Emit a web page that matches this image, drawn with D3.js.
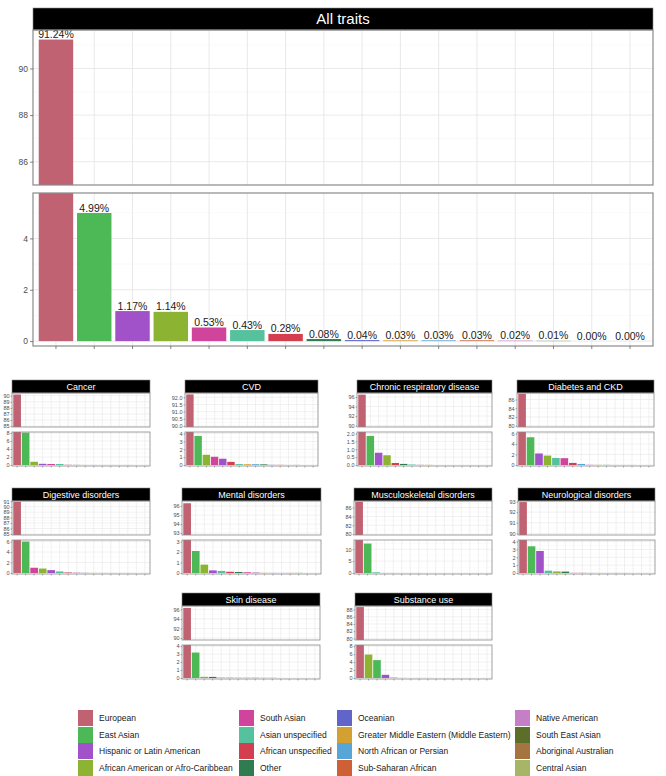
<!DOCTYPE html>
<html><head><meta charset="utf-8">
<script src="https://cdn.jsdelivr.net/npm/d3@7"></script>
<style>body{margin:0;background:#fff}svg{display:block;font-family:"Liberation Sans",Arial,sans-serif}</style>
</head><body><svg id="c" width="666" height="776"></svg>
<script>
// ---------- DATA ----------
const categories = ["European","East Asian","Hispanic or Latin American","African American or Afro-Caribbean","South Asian","Asian unspecified","African unspecified","Other","Oceanian","Greater Middle Eastern (Middle Eastern)","North African or Persian","Sub-Saharan African","Native American","South East Asian","Aboriginal Australian","Central Asian"];
const colors = ["#c06272","#4cb856","#a152c8","#8db332","#d0449c","#55c19d","#d33f4f","#2f7c50","#6165c9","#d4a031","#58a6d8","#cf5f34","#c47fc6","#5b6f2a","#a57441","#a6b566"];

const allTraitsTitle = "All traits";
const allTraits = [91.24,4.99,1.17,1.14,0.53,0.43,0.28,0.08,0.04,0.03,0.03,0.03,0.02,0.01,0.00,0.00];
const allUpperTicks = [86,88,90];
const allLowerTicks = [0,2,4];

const panelNames = ["Cancer","CVD","Chronic respiratory disease","Diabetes and CKD","Digestive disorders","Mental disorders","Musculoskeletal disorders","Neurological disorders","Skin disease","Substance use"];
const cancer     = [90.2,8.1,0.3,0.8,0.25,0.25,0.05,0.03,0.01,0.02,0.02,0.01,0.01,0.01,0,0];
const cvd        = [92.2,3.7,0.8,1.3,1.05,0.12,0.4,0.08,0.02,0.1,0.1,0.02,0.01,0.01,0,0];
const chronicResp= [96.5,1.85,0.78,0.62,0.01,0.03,0.13,0.07,0,0.01,0,0,0,0,0,0];
const diabetes   = [87.3,5.3,2.2,1.8,1.3,1.35,0.4,0.02,0.01,0.03,0.2,0.01,0.05,0.01,0,0];
const digestive  = [90.9,6.0,0.55,0.85,1.0,0.3,0.1,0.03,0.01,0.02,0.02,0.01,0.08,0.01,0,0];
const mental     = [96.3,2.1,0.25,0.8,0.07,0.2,0.12,0.1,0.01,0.02,0.01,0.01,0.06,0.01,0,0];
const musculo    = [87.3,12.4,0.02,0.01,0.02,0.3,0.01,0.01,0,0,0,0,0,0,0,0];
const neuro      = [92.95,3.4,2.8,0.2,0.02,0.3,0.02,0.18,0.01,0.01,0.01,0.01,0.01,0,0,0];
const skin       = [96.3,3.2,0.02,0.15,0.03,0.04,0.02,0.14,0,0.06,0.05,0,0.04,0,0,0];
const substance  = [88.7,4.5,0.8,5.9,0.02,0.01,0.01,0.01,0,0,0,0,0.12,0,0,0];
const panelValues = [cancer,cvd,chronicResp,diabetes,digestive,mental,musculo,neuro,skin,substance];

const upperTickLabels = [[85,86,87,88,89,90],[90.0,90.5,91.0,91.5,92.0],[90,92,94,96],[80,82,84,86],[85,86,87,88,89,90,91],[93,94,95,96],[80,82,84,86],[90,91,92,93],[90,92,94,96],[80,82,84,86,88]];
const lowerTickLabels = [[0,2,4,6,8],[0,1,2,3,4],[0.0,0.5,1.0,1.5,2.0],[0,2,4,6],[0,2,4,6],[0,1,2,3],[0,5,10],[0,1,2,3,4],[0,1,2,3,4],[0,2,4,6,8]];
const tickDecimals = [[0,0],[1,0],[0,1],[0,0],[0,0],[0,0],[0,0],[0,0],[0,0],[0,0]];
// axis ranges (upper low/high, lower top)
const upperRange = [[84.85,90.45],[89.93,92.3],[89.7,96.85],[79.7,87.5],[84.8,91.05],[92.8,96.55],[79.8,87.5],[89.85,93.05],[89.6,96.7],[79.55,89.0]];
const lowerTop = [8.25,4.2,2.1,6.3,6.3,3.15,13.9,4.2,4.15,8.3];
const allUpperRange = [85.0,91.65];
const allLowerTop = 5.77;

// ---------- LAYOUT ----------
const svg = d3.select("#c");
const defs = svg.append("defs");
let clipId = 0;
const colorOf = d3.scaleOrdinal().domain(categories).range(colors);

function drawPanel(opt){
  const g = svg.append("g");
  const x = d3.scaleBand().domain(opt.order).range([opt.x0,opt.x1]).paddingInner(0.1).paddingOuter(0.15);
  const y = d3.scaleLinear().domain(opt.yDomain).range([opt.y1,opt.y0]);
  const id = "cl"+(clipId++);
  defs.append("clipPath").attr("id",id).append("rect")
    .attr("x",opt.x0).attr("y",opt.y0).attr("width",opt.x1-opt.x0).attr("height",opt.y1-opt.y0);
  const inner = g.append("g").attr("clip-path",`url(#${id})`);
  const t = opt.ticks, step = t[1]-t[0];
  const minors=[];
  for(let v=t[0]-step/2; v<=opt.yDomain[1]; v+=step){ if(v>=opt.yDomain[0]) minors.push(v); }
  inner.selectAll(".mn").data(minors).join("line")
    .attr("x1",opt.x0).attr("x2",opt.x1).attr("y1",d=>y(d)).attr("y2",d=>y(d))
    .attr("stroke","#f2f2f2").attr("stroke-width",opt.gw*0.6);
  inner.selectAll(".mj").data(t).join("line")
    .attr("x1",opt.x0).attr("x2",opt.x1).attr("y1",d=>y(d)).attr("y2",d=>y(d))
    .attr("stroke","#e3e3e3").attr("stroke-width",opt.gw);
  inner.selectAll(".vg").data(opt.order).join("line")
    .attr("x1",d=>x(d)+x.bandwidth()/2).attr("x2",d=>x(d)+x.bandwidth()/2)
    .attr("y1",opt.y0).attr("y2",opt.y1)
    .attr("stroke","#e3e3e3").attr("stroke-width",opt.gw);
  inner.selectAll(".bar").data(opt.order).join("rect")
    .attr("x",d=>x(d)).attr("width",x.bandwidth())
    .attr("y",d=>y(Math.max(opt.val[d],opt.yDomain[0])))
    .attr("height",d=>Math.max(0, y(opt.yDomain[0]<0?0:opt.yDomain[0]) - y(Math.max(opt.val[d],opt.yDomain[0]))))
    .attr("fill",d=>colorOf(d));
  if(opt.labels){
    const lg = g.append("g");
    lg.selectAll("text").data(opt.order.filter(d=>opt.val[d]>=opt.yDomain[0] && opt.val[d]<=opt.yDomain[1])).join("text")
      .attr("x",d=>x(d)+x.bandwidth()/2).attr("y",d=>y(opt.val[d])-1.5)
      .attr("text-anchor","middle").attr("font-size",opt.labelSize).attr("fill","#1a1a1a")
      .text(d=>d3.format(".2f")(opt.val[d])+"%");
  }
  g.append("rect").attr("x",opt.x0).attr("y",opt.y0).attr("width",opt.x1-opt.x0).attr("height",opt.y1-opt.y0)
    .attr("fill","none").attr("stroke","#8a8a8a").attr("stroke-width",opt.bw);
  const ya = g.append("g").attr("transform",`translate(${opt.x0},0)`)
    .call(d3.axisLeft(y).tickValues(t).tickSize(opt.tk).tickPadding(opt.tp).tickFormat(d3.format("."+opt.dec+"f")));
  ya.select(".domain").remove();
  ya.selectAll("line").attr("stroke","#555").attr("stroke-width",opt.bw*0.6);
  ya.selectAll("text").attr("font-size",opt.fs).attr("fill","#4d4d4d").attr("font-family","Liberation Sans, Arial, sans-serif");
  if(opt.xticks){
    const xa = g.append("g").attr("transform",`translate(0,${opt.y1})`)
      .call(d3.axisBottom(x).tickSize(opt.tk).tickFormat(""));
    xa.select(".domain").remove();
    xa.selectAll("line").attr("stroke","#555").attr("stroke-width",opt.bw*0.6);
  }
}

function drawStrip(x0,x1,y0,y1,label,fs){
  svg.append("rect").attr("x",x0).attr("y",y0).attr("width",x1-x0).attr("height",y1-y0).attr("fill","#000")
    .attr("stroke","#8a8a8a").attr("stroke-width",0.6);
  svg.append("text").attr("x",(x0+x1)/2).attr("y",(y0+y1)/2).attr("dy","0.36em")
    .attr("text-anchor","middle").attr("fill","#fff").attr("font-size",fs).text(label);
}

function orderOf(vals){
  const idx = categories.map((c,i)=>i);
  idx.sort((a,b)=> vals[b]-vals[a] || a-b);
  return idx.map(i=>categories[i]);
}
function valMap(vals){ const m={}; categories.forEach((c,i)=>m[c]=vals[i]); return m; }

// ---- main panel ----
{
  const X0=33,X1=653;
  drawStrip(X0,X1,8,30,allTraitsTitle,15);
  const order = orderOf(allTraits), val = valMap(allTraits);
  drawPanel({x0:X0,x1:X1,y0:30,y1:185,order,val,yDomain:allUpperRange,ticks:allUpperTicks,dec:0,
    gw:0.8,bw:1.2,tk:3,tp:2,fs:8.5,labels:true,labelSize:10.5,xticks:false});
  drawPanel({x0:X0,x1:X1,y0:193,y1:346,order,val,yDomain:[-allLowerTop*0.033,allLowerTop],ticks:allLowerTicks,dec:0,
    gw:0.8,bw:1.2,tk:3,tp:2,fs:8.5,labels:true,labelSize:10.5,xticks:true});
}

// ---- small multiples ----
const boxes = [
  [12,150,380],[185,318,380],[357,492,380],[517,654,380],
  [12,150,488],[182,321,488],[354,492,488],[518,655,488],
  [182,320,593],[355,492,593]
];
panelNames.forEach((name,i)=>{
  const [x0,x1,ys] = boxes[i];
  const vals = panelValues[i];
  const order = orderOf(vals), val = valMap(vals);
  drawStrip(x0,x1,ys,ys+13,name,9);
  drawPanel({x0,x1,y0:ys+13,y1:ys+47,order,val,yDomain:upperRange[i],ticks:upperTickLabels[i],dec:tickDecimals[i][0],
    gw:0.5,bw:0.8,tk:1.5,tp:1,fs:5.5,labels:false,xticks:false});
  drawPanel({x0,x1,y0:ys+52,y1:ys+86,order,val,yDomain:[-lowerTop[i]*0.03,lowerTop[i]],ticks:lowerTickLabels[i],dec:tickDecimals[i][1],
    gw:0.5,bw:0.8,tk:1.5,tp:1,fs:5.5,labels:false,xticks:true});
});

// ---- legend ----
const legCols = [78,239,337,515], legRows = [710,727,743,760];
const lg = svg.append("g");
categories.forEach((c,i)=>{
  const col = Math.floor(i/4), row = i%4;
  lg.append("rect").attr("x",legCols[col]).attr("y",legRows[row]).attr("width",15).attr("height",16).attr("fill",colors[i]);
  lg.append("text").attr("x",legCols[col]+21).attr("y",legRows[row]+8).attr("dy","0.35em")
    .attr("font-size",8.5).attr("fill","#1a1a1a").text(c);
});
</script></body></html>
